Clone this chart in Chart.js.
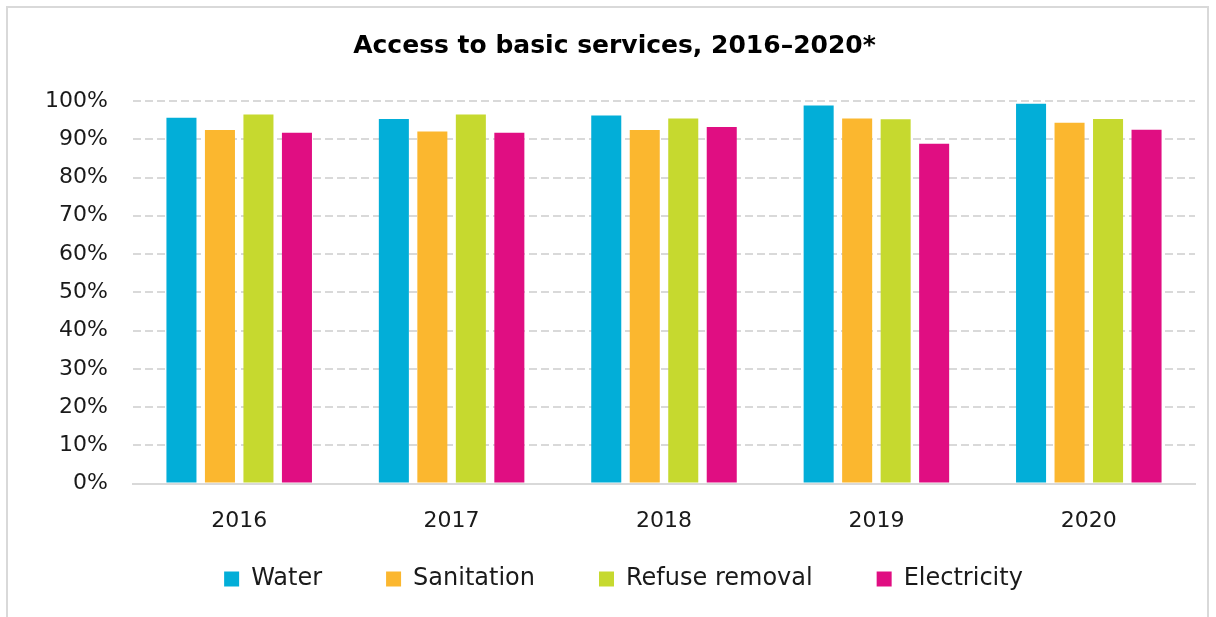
<!DOCTYPE html>
<html>
<head>
<meta charset="utf-8">
<script src="https://cdn.jsdelivr.net/npm/chart.js@4/dist/chart.umd.min.js"></script>
<style>
  html, body { margin: 0; padding: 0; background: #fff; }
  #frame { position: absolute; left: 6px; top: 6px; width: 1203px; height: 620px; border: 2px solid #d9d9d9; box-sizing: border-box; }
  #wrap { position: absolute; left: 0; top: 0; width: 1216px; height: 617px; }
</style>
</head>
<body>
<div id="frame"></div>
<div id="wrap"><canvas id="servicesChart"></canvas></div>
<script>
// years and access rates (%) per service
const years = ['2016', '2017', '2018', '2019', '2020'];
const water = [95.6, 95.3, 96.2, 98.8, 99.3];
const sanitation = [92.4, 92.0, 92.4, 95.4, 94.3];
const refuse = [96.5, 96.5, 95.4, 95.2, 95.3];
const electricity = [91.7, 91.7, 93.2, 88.8, 92.5];
const yTicks = [0, 10, 20, 30, 40, 50, 60, 70, 80, 90, 100];

const fontFamily = '"DejaVu Sans", sans-serif';
const textColor = '#1a1a1a';

// move title and legend a bit after layout (legend sits closer to the axis labels)
const nudgeBlocks = {
    id: 'nudgeBlocks',
    afterLayout(chart) {
        const lg = chart.legend;
        if (lg) {
            lg.left += 16; lg.right += 16;
            lg.top -= 55; lg.bottom -= 55;
        }
        const tb = chart.titleBlock;
        if (tb) { tb.left += 7; tb.right += 7; }
    }
};

const ctx = document.getElementById('servicesChart');
new Chart(ctx, {
    type: 'bar',
    data: {
        labels: years,
        datasets: [
            { label: 'Water', data: water, backgroundColor: '#02aed8' },
            { label: 'Sanitation', data: sanitation, backgroundColor: '#fbb72f' },
            { label: 'Refuse removal', data: refuse, backgroundColor: '#c6d92f' },
            { label: 'Electricity', data: electricity, backgroundColor: '#e00e82' }
        ]
    },
    options: {
        responsive: true,
        maintainAspectRatio: false,
        animation: false,
        datasets: {
            bar: { categoryPercentage: 0.725, barPercentage: 0.78 }
        },
        layout: { padding: { left: 20, right: 21, top: 31, bottom: -39 } },
        plugins: {
            title: {
                display: true,
                text: 'Access to basic services, 2016–2020*',
                color: '#000',
                font: { family: fontFamily, size: 25, weight: 'bold' },
                padding: { top: 0, bottom: 40 }
            },
            legend: {
                position: 'bottom',
                labels: {
                    color: textColor,
                    font: { family: fontFamily, size: 24 },
                    boxWidth: 15,
                    boxHeight: 15,
                    padding: 64
                }
            },
            tooltip: { enabled: false }
        },
        scales: {
            x: {
                grid: { display: false, drawTicks: false },
                border: { color: '#d9d9d9', width: 2 },
                ticks: { color: textColor, font: { family: fontFamily, size: 22 }, padding: 24 }
            },
            y: {
                min: 0,
                max: 100,
                afterBuildTicks: (axis) => { axis.ticks = yTicks.map(v => ({ value: v })); },
                afterFit: (axis) => { axis.width = 113; },
                border: { display: false, dash: [8, 4] },
                grid: { color: '#d9d9d9', lineWidth: 2, drawTicks: false },
                ticks: {
                    color: textColor,
                    font: { family: fontFamily, size: 22 },
                    padding: 25,
                    callback: (v) => v + '%'
                }
            }
        }
    },
    plugins: [nudgeBlocks]
});
</script>
</body>
</html>
